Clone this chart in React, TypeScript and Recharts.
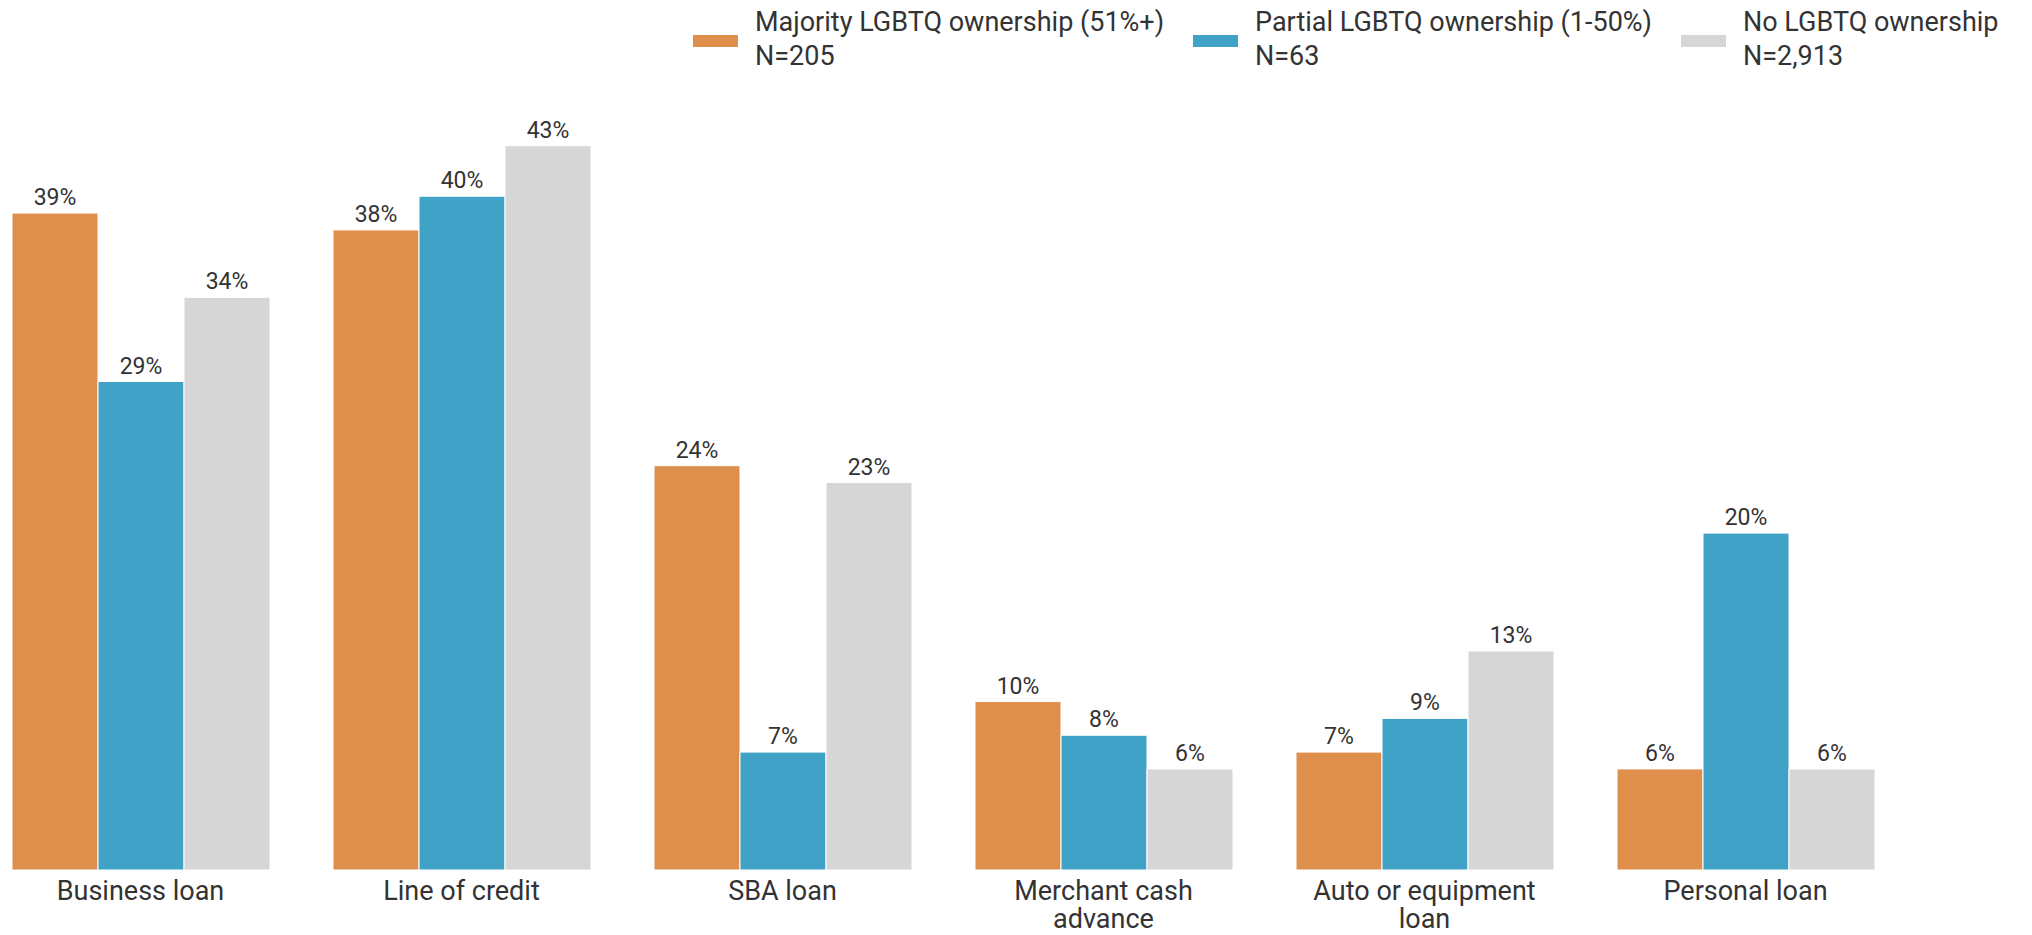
import React from 'react';
import { BarChart, Bar, XAxis, YAxis, LabelList } from 'recharts';

const categories = [
  'Business loan',
  'Line of credit',
  'SBA loan',
  'Merchant cash advance',
  'Auto or equipment loan',
  'Personal loan',
];

const majority = [39, 38, 24, 10, 7, 6];
const partial = [29, 40, 7, 8, 9, 20];
const none = [34, 43, 23, 6, 13, 6];

const seriesNames = ['Majority LGBTQ ownership (51%+)', 'Partial LGBTQ ownership (1-50%)', 'No LGBTQ ownership'];
const seriesN = ['N=205', 'N=63', 'N=2,913'];
const seriesKeys = ['majority', 'partial', 'none'];
const seriesColors = ['#DE8F4C', '#41A2C8', '#D6D6D6'];

const data = categories.map((name, i) => ({
  name,
  majority: majority[i],
  partial: partial[i],
  none: none[i],
}));

const FONT = 'Roboto, "Noto Sans", sans-serif';

// split long category names onto two lines
const wrap = (s: string, max = 17) => {
  const words = s.split(' ');
  const lines: string[] = [];
  let cur = '';
  words.forEach((w) => {
    const next = cur ? cur + ' ' + w : w;
    if (next.length > max && cur) {
      lines.push(cur);
      cur = w;
    } else {
      cur = next;
    }
  });
  if (cur) lines.push(cur);
  return lines;
};

const CategoryTick = (props: any) => {
  const { x, y, payload } = props;
  const lines = wrap(payload.value);
  return (
    <text x={x} y={y} textAnchor="middle" fill="#333" fontSize={27} fontFamily={FONT}>
      {lines.map((l, i) => (
        <tspan key={i} x={x} dy={i === 0 ? 22 : 28}>
          {l}
        </tspan>
      ))}
    </text>
  );
};

const legendLeft = [693, 1193, 1681];

const LegendBlock = () => (
  <div style={{ position: 'absolute', top: 0, left: 0, width: 2032, height: 80, fontFamily: FONT }}>
    {seriesNames.map((name, i) => (
      <div key={name} style={{ position: 'absolute', left: legendLeft[i], top: 0 }}>
        <div
          style={{ position: 'absolute', left: 0, top: 30, width: 45, height: 12, background: seriesColors[i] }}
        />
        <div
          style={{
            position: 'absolute',
            left: 62,
            top: 0,
            fontSize: 27,
            lineHeight: '34px',
            color: '#333',
            whiteSpace: 'nowrap',
          }}
        >
          {name}
          <br />
          {seriesN[i]}
        </div>
      </div>
    ))}
  </div>
);

export default function App() {
  return (
    <div style={{ position: 'relative', width: 2032, height: 927, marginLeft: -28 }}>
      <div style={{ position: 'absolute', left: 20, top: -3 }}>
        <LegendBlock />
      </div>
      <BarChart
        width={2052}
        height={927}
        data={data}
        margin={{ top: 104, right: 126, bottom: 5, left: 0 }}
        barCategoryGap={32}
        barGap={0}
      >
        <XAxis
          dataKey="name"
          axisLine={false}
          tickLine={false}
          height={60}
          interval={0}
          tick={<CategoryTick />}
        />
        <YAxis hide domain={[0, 45]} />
        {seriesKeys.map((k, i) => (
          <Bar key={k} dataKey={k} fill={seriesColors[i]} stroke="#fff" strokeWidth={1} isAnimationActive={false}>
            <LabelList
              dataKey={k}
              position="top"
              offset={8}
              formatter={(v: any) => `${v}%`}
              style={{ fill: '#333', fontSize: 23, fontFamily: FONT }}
            />
          </Bar>
        ))}
      </BarChart>
    </div>
  );
}
